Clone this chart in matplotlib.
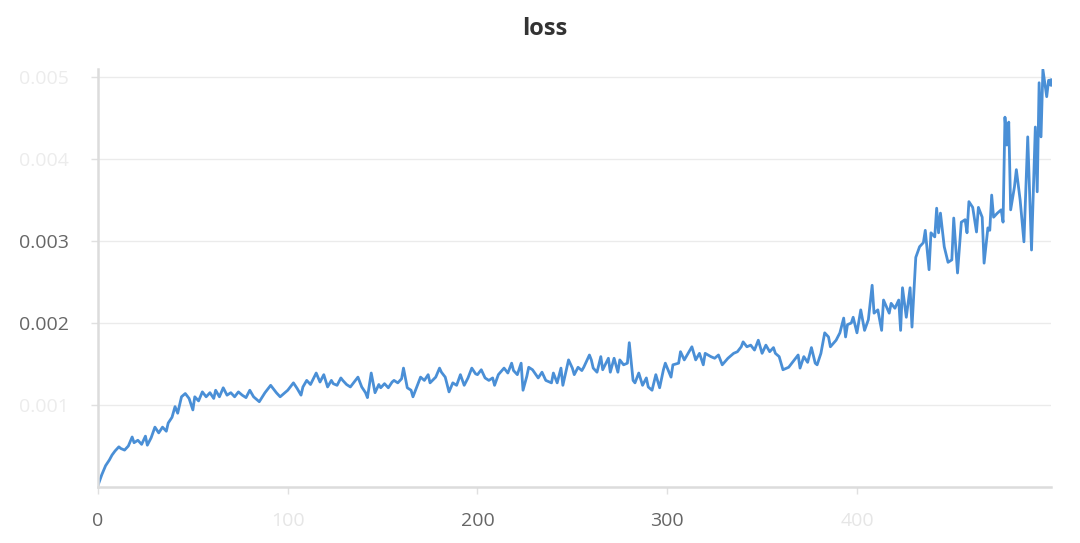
import numpy as np
import matplotlib
matplotlib.use("Agg")
import matplotlib.pyplot as plt

plt.rcParams['font.family'] = ['Open Sans', 'DejaVu Sans']

# training step and loss (in units of 1e-3)
steps = [
    0, 2, 4, 6, 7.4, 9, 11, 12, 14, 16, 18, 19, 21, 23, 25, 26, 28, 30, 32, 34,
    36, 37, 39, 40.6, 42, 44, 46, 48, 50, 51, 53, 55, 57, 59, 61, 62, 64, 66, 68, 70,
    72, 74, 76, 78, 80, 82, 84,
    85, 88, 91, 93, 94, 96, 98, 100, 103, 105, 107, 108, 110, 112, 115, 117, 119, 121,
    123, 124, 126, 128, 129, 131, 133, 135, 137, 139, 141, 142, 144, 146, 148, 149,
    151, 153, 155, 156, 158, 160, 161, 163, 165, 166, 168, 170, 172, 174,
    175, 178, 180, 181, 183, 185, 187, 189, 191, 193, 195, 197, 199, 200, 202, 204,
    206, 208, 209, 211, 214, 216, 218, 219, 221, 223, 224, 226, 227, 229, 232, 234,
    236, 239, 240, 242, 244, 245, 248, 250, 251, 253, 255, 256, 259, 260,
    261, 263, 265, 266, 269, 270, 272, 274, 275, 277, 279, 280, 282, 283, 285, 287,
    289, 290, 292, 294, 296, 298, 299, 302, 303, 306, 307, 309, 311, 313, 315, 317,
    319, 320, 323, 325, 327, 329, 332, 335, 337, 339, 340, 342, 344, 346, 348,
    350, 352, 354, 356, 357, 359, 361, 364, 367, 369, 370, 372, 374, 376, 378, 379,
    381, 383, 385, 386, 389, 391, 393, 394, 395, 397, 398, 400, 402, 404, 406, 408,
    409, 411, 413, 414, 417, 418, 420, 422, 423, 424, 426, 428, 429, 431, 433, 435,
    436, 438, 439, 441, 442, 443, 444, 446, 448, 450, 451, 453, 455, 457, 458, 459,
    461, 463, 464, 466, 467, 469, 470, 471, 472, 474, 476, 477, 478, 479, 480, 481,
    483, 484, 486, 488, 490, 492, 494, 495, 496, 497, 498, 500, 501, 502,
]
loss_milli = [
    0.02, 0.15, 0.26, 0.33, 0.39, 0.44, 0.49, 0.47, 0.45, 0.50, 0.61, 0.54, 0.57, 0.52, 0.62, 0.51, 0.60, 0.73, 0.66, 0.73,
    0.68, 0.78, 0.85, 0.98, 0.90, 1.10, 1.14, 1.08, 0.94, 1.10, 1.05, 1.16, 1.10, 1.15, 1.08, 1.18, 1.10, 1.21, 1.12, 1.15,
    1.10, 1.16, 1.12, 1.09, 1.18, 1.10, 1.06,
    1.04, 1.15, 1.24, 1.18, 1.15, 1.10, 1.14, 1.18, 1.27, 1.20, 1.12, 1.22, 1.30, 1.25, 1.39, 1.28, 1.37, 1.22,
    1.30, 1.26, 1.24, 1.33, 1.30, 1.25, 1.22, 1.28, 1.34, 1.22, 1.15, 1.09, 1.39, 1.15, 1.25, 1.21,
    1.26, 1.21, 1.28, 1.30, 1.27, 1.32, 1.45, 1.21, 1.18, 1.10, 1.22, 1.34, 1.30, 1.37,
    1.27, 1.34, 1.45, 1.40, 1.34, 1.16, 1.27, 1.24, 1.37, 1.24, 1.33, 1.45, 1.38, 1.37, 1.43, 1.33,
    1.30, 1.33, 1.24, 1.37, 1.45, 1.39, 1.51, 1.42, 1.37, 1.51, 1.18, 1.35, 1.46, 1.43, 1.33, 1.40,
    1.30, 1.27, 1.39, 1.27, 1.45, 1.24, 1.55, 1.45, 1.37, 1.46, 1.42, 1.46, 1.61, 1.55,
    1.45, 1.40, 1.59, 1.43, 1.57, 1.40, 1.57, 1.40, 1.55, 1.49, 1.51, 1.76, 1.30, 1.27, 1.39, 1.24,
    1.33, 1.22, 1.18, 1.37, 1.21, 1.43, 1.51, 1.34, 1.49, 1.51, 1.65, 1.55, 1.63, 1.71, 1.55, 1.63,
    1.49, 1.63, 1.59, 1.57, 1.61, 1.49, 1.57, 1.63, 1.65, 1.71, 1.77, 1.71, 1.73, 1.67, 1.79,
    1.63, 1.73, 1.65, 1.70, 1.63, 1.59, 1.43, 1.46, 1.55, 1.61, 1.45, 1.59, 1.52, 1.70, 1.51, 1.49,
    1.63, 1.88, 1.83, 1.71, 1.79, 1.88, 2.06, 1.83, 1.98, 2.00, 2.07, 1.88, 2.16, 1.91, 2.04, 2.46,
    2.12, 2.16, 1.91, 2.28, 2.12, 2.24, 2.18, 2.28, 1.91, 2.43, 2.07, 2.43, 1.95, 2.80, 2.93, 2.98,
    3.13, 2.65, 3.10, 3.05, 3.40, 3.10, 3.34, 2.93, 2.74, 2.77, 3.28, 2.61, 3.23, 3.26, 3.10, 3.48,
    3.41, 3.11, 3.41, 3.29, 2.73, 3.16, 3.13, 3.56, 3.29, 3.34, 3.38, 3.23, 4.51, 4.17, 4.45, 3.38,
    3.66, 3.87, 3.50, 2.99, 4.27, 2.89, 4.39, 3.60, 4.93, 4.27, 5.09, 4.76, 4.96, 4.94,
]
loss = np.array(loss_milli) * 1e-3

x_ticks = [0, 100, 200, 300, 400]
x_labels = ['0', '100', '200', '300', '400']
y_ticks = [0.001, 0.002, 0.003, 0.004, 0.005]
y_labels = ['0.001', '0.002', '0.003', '0.004', '0.005']
# labels that are washed out in the reference
faint_x = {'100', '400'}
faint_y = {'0.001', '0.004', '0.005'}

fig = plt.figure(figsize=(10.8, 5.43), dpi=100)
ax = fig.add_axes((98 / 1080, 56 / 543, 952.5 / 1080, 418.2 / 543))

ax.plot(steps, loss, color='#4a8fd6', lw=2.0, solid_joinstyle='round')
ax.plot(steps[-1], loss[-1], 'o', color='#4a8fd6', ms=5)

ax.set_xlim(0, 502)
ax.set_ylim(0, 0.0051)
ax.set_xticks(x_ticks)
ax.set_xticklabels(x_labels)
ax.set_yticks(y_ticks)
ax.set_yticklabels(y_labels)
ax.grid(axis='y', color='#ebebeb', lw=1)
ax.set_axisbelow(True)

for s in ['top', 'right']:
    ax.spines[s].set_visible(False)
for s in ['left', 'bottom']:
    ax.spines[s].set_color('#dcdcdc')
    ax.spines[s].set_linewidth(1.8)

ax.tick_params(axis='both', colors='#e0e0e0', labelcolor='#666666',
               labelsize=14, length=5, width=1)
ax.tick_params(axis='y', pad=16)
ax.tick_params(axis='x', pad=13)
for lab in ax.get_xticklabels():
    if lab.get_text() in faint_x:
        lab.set_color('#e6e6e6')
for lab in ax.get_yticklabels():
    if lab.get_text() in faint_y:
        lab.set_color('#ececec')

fig.text(545 / 1080, 1 - 29 / 543, 'loss', ha='center', va='center',
         fontsize=17, fontweight='bold', color='#333333')

fig.savefig('out.png', dpi=100)
